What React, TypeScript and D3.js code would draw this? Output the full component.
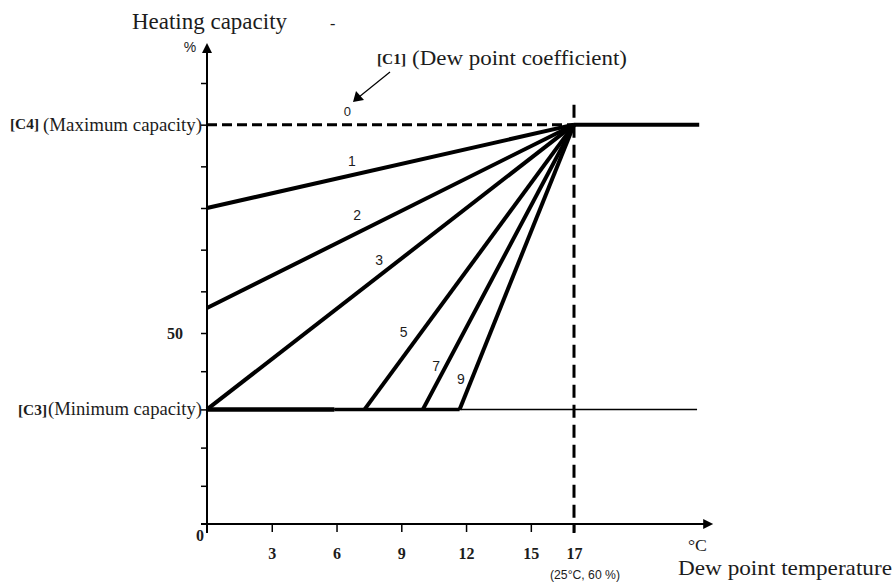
import React, { useRef, useEffect } from 'react';
import * as d3 from 'd3';

// dew point temperature ticks (°C) and heating capacity ticks (%)
const xTicks = [3, 6, 9, 12, 15, 17];
const yTicks = [10, 20, 30, 40, 50, 60, 70, 80, 90, 100, 110];
const yLabelled = [50];

const maxCapacity = 100; // [C4]
const minCapacity = 30; // [C3]
const setPoint = 17; // 25°C, 60 %
const xEnd = 22.8;

// dew point coefficient lines, each runs from its start point up to (17, max)
const coefficients = ['1', '2', '3', '5', '7', '9'];
const startTemp = [0, 0, 0, 7.3, 10.0, 11.7];
const startCapacity = [80, 56, 30, 30, 30, 30];

// where each number sits: fraction along the line, then a nudge in px
const labelAt = [
  { t: 0.395, dx: 0, dy: -14 },
  { t: 0.409, dx: 0, dy: -18 },
  { t: 0.469, dx: 0, dy: -16 },
  { t: 0.272, dx: -18, dy: 0 },
  { t: 0.154, dx: -10, dy: 0 },
  { t: 0.107, dx: -11, dy: 0 },
];

const SERIF = '"Liberation Serif", "Times New Roman", serif';
const SANS = '"Liberation Sans", Arial, sans-serif';
const INK = '#1c1c1c';

export default function App() {
  const ref = useRef<SVGSVGElement>(null);

  useEffect(() => {
    const svg = d3.select(ref.current);
    svg.selectAll('*').remove();

    const x = d3.scaleLinear().domain([0, setPoint]).range([207, 574]);
    const y = d3.scaleLinear().domain([0, 50, 110]).range([524, 333, 83]);

    const x0 = x(0), y0 = y(0);

    // axes ticks
    const gx = svg.append('g').attr('transform', `translate(0,${y0})`)
      .call(d3.axisBottom(x).tickValues(xTicks).tickSize(8).tickPadding(16).tickSizeOuter(0));
    gx.select('.domain').remove();
    gx.selectAll('line').attr('stroke', '#000').attr('stroke-width', 1.5);
    gx.selectAll('text')
      .attr('fill', INK)
      .style('font-family', SERIF)
      .style('font-size', '16px')
      .style('font-weight', 'bold');

    const gy = svg.append('g').attr('transform', `translate(${x0},0)`)
      .call(d3.axisLeft(y).tickValues(yTicks).tickSize(6).tickPadding(18).tickSizeOuter(0)
        .tickFormat(d => (yLabelled.includes(d as number) ? String(d) : '')));
    gy.select('.domain').remove();
    gy.selectAll('line').attr('stroke', '#000').attr('stroke-width', 1.5);
    gy.selectAll('text')
      .attr('fill', INK)
      .style('font-family', SERIF)
      .style('font-size', '16px')
      .style('font-weight', 'bold');

    // axis lines with arrow heads
    const yTop = y(110) - 40;
    const xRight = x(xEnd) + 14;
    svg.append('line').attr('x1', x0).attr('x2', x0).attr('y1', y0 + 9).attr('y2', yTop + 8)
      .attr('stroke', '#000').attr('stroke-width', 2);
    svg.append('path').attr('d', `M${x0},${yTop}L${x0 - 5},${yTop + 10}L${x0 + 5},${yTop + 10}Z`).attr('fill', '#000');
    svg.append('line').attr('x1', x0 - 6).attr('x2', xRight - 8).attr('y1', y0).attr('y2', y0)
      .attr('stroke', '#000').attr('stroke-width', 2);
    svg.append('path').attr('d', `M${xRight},${y0}L${xRight - 10},${y0 - 5}L${xRight - 10},${y0 + 5}Z`).attr('fill', '#000');

    const line = d3.line<[number, number]>().x(d => x(d[0])).y(d => y(d[1]));

    // minimum capacity: thin reference line and thick floor
    svg.append('path').attr('d', line([[0, minCapacity], [xEnd - 0.1, minCapacity]]))
      .attr('stroke', '#000').attr('stroke-width', 1.5).attr('fill', 'none');
    svg.append('path').attr('d', line([[0, minCapacity], [5.9, minCapacity]]))
      .attr('stroke', '#000').attr('stroke-width', 4.5).attr('fill', 'none');
    svg.append('path').attr('d', line([[5.9, minCapacity], [startTemp[5], minCapacity]]))
      .attr('stroke', '#000').attr('stroke-width', 3.5).attr('fill', 'none');

    // coefficient 0: dashed maximum, then solid beyond set point
    svg.append('path').attr('d', line([[0, maxCapacity], [setPoint, maxCapacity]]))
      .attr('stroke', '#000').attr('stroke-width', 3).attr('stroke-dasharray', '10,5').attr('fill', 'none');
    svg.append('path').attr('d', line([[setPoint, maxCapacity], [xEnd, maxCapacity]]))
      .attr('stroke', '#000').attr('stroke-width', 4).attr('fill', 'none');

    // vertical set point marker
    svg.append('line')
      .attr('x1', x(setPoint)).attr('x2', x(setPoint))
      .attr('y1', y(maxCapacity) - 20).attr('y2', y0 + 9)
      .attr('stroke', '#000').attr('stroke-width', 3).attr('stroke-dasharray', '13,7');

    // sloped coefficient lines
    coefficients.forEach((c, i) => {
      const a: [number, number] = [startTemp[i], startCapacity[i]];
      const b: [number, number] = [setPoint, maxCapacity];
      svg.append('path').attr('d', line([a, b]))
        .attr('stroke', '#000').attr('stroke-width', 4).attr('fill', 'none');
      const { t, dx, dy } = labelAt[i];
      const px = x(a[0]) + (x(b[0]) - x(a[0])) * t + dx;
      const py = y(a[1]) + (y(b[1]) - y(a[1])) * t + dy;
      svg.append('text').text(c)
        .attr('x', px).attr('y', py).attr('dy', '0.36em')
        .attr('text-anchor', 'middle').attr('fill', INK)
        .style('font-family', SANS).style('font-size', '14px');
    });

    // "0" label and the coefficient callout
    svg.append('text').text('0')
      .attr('x', x(6.5)).attr('y', y(maxCapacity) - 9)
      .attr('text-anchor', 'middle').attr('fill', INK)
      .style('font-family', SANS).style('font-size', '13px');
    svg.append('line').attr('x1', 390).attr('y1', 72).attr('x2', 359).attr('y2', 97)
      .attr('stroke', '#000').attr('stroke-width', 1.2);
    svg.append('path').attr('d', 'M353,102L356,91L364,100Z').attr('fill', '#000');

    const label = (txt: string, px: number, py: number, size: number, opts: any = {}) => {
      const el = svg.append('text').text(txt)
        .attr('x', px).attr('y', py).attr('fill', INK)
        .attr('text-anchor', opts.anchor || 'start')
        .style('font-family', opts.family || SERIF)
        .style('font-size', `${size}px`)
        .style('font-weight', opts.bold ? 'bold' : 'normal');
      if (opts.len) el.attr('textLength', opts.len).attr('lengthAdjust', 'spacingAndGlyphs');
      return el;
    };

    label('Heating capacity', 132, 29, 23, { len: 155 });
    label('-', 330, 29, 16);
    label('%', 190, 52, 14, { family: SANS, anchor: 'middle' });
    label('[C1]', 377, 64, 14, { bold: true, len: 29 });
    label('(Dew point coefficient)', 412, 65, 21, { len: 215 });
    label('[C4]', 10, 129, 14, { bold: true, len: 29 });
    label('(Maximum capacity)', 43, 131, 19, { len: 159 });
    label('[C3]', 18, 415, 14, { bold: true, len: 29 });
    label('(Minimum capacity)', 48, 415, 19, { len: 154 });
    label('0', x0 - 7, 541, 16, { bold: true, anchor: 'middle' });
    label('(25°C, 60 %)', 550, 579, 12, { family: SANS, len: 70 });
    label('°C', 688, 551, 16, { len: 19 });
    label('Dew point temperature', 678, 575, 22, { len: 214 });
  }, []);

  return (
    <svg ref={ref} width={894} height={582}
      style={{ position: 'absolute', left: 0, top: 0, background: '#fff' }} />
  );
}
